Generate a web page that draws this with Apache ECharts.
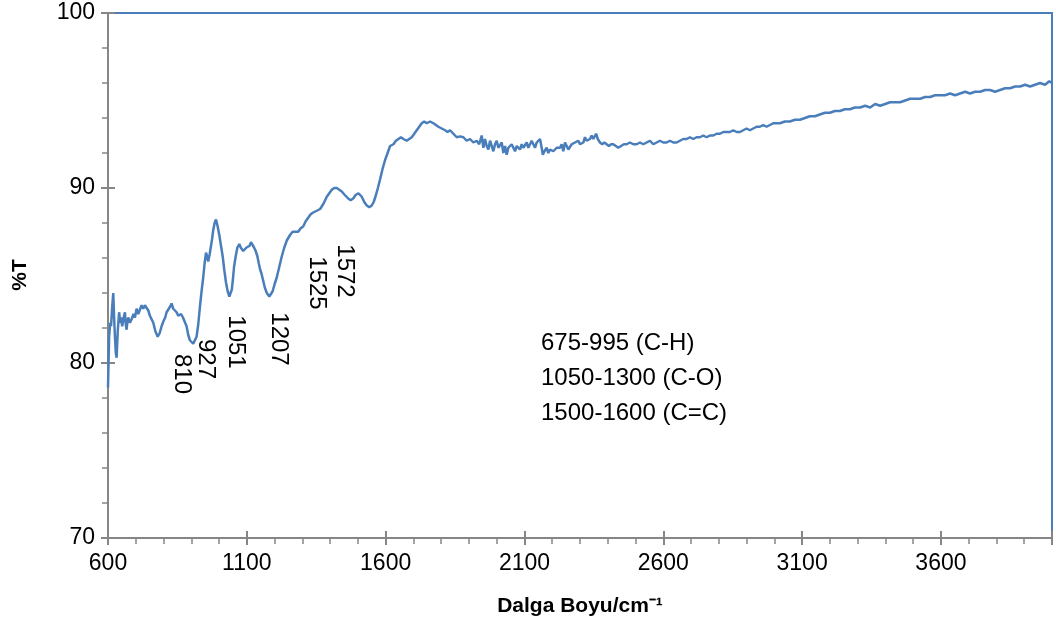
<!DOCTYPE html>
<html>
<head>
<meta charset="utf-8">
<title>FTIR</title>
<script src="https://cdn.jsdelivr.net/npm/echarts@6/dist/echarts.min.js"></script>
<style>
  html, body { margin: 0; padding: 0; background: #fff; }
  #main { width: 1056px; height: 634px; }
</style>
</head>
<body>
<div id="main"></div>
<script>
// dalga sayisi (cm-1)
const wavenumbers = [
  600, 604, 608, 611, 615, 619, 622, 625, 628, 631, 635, 640, 644, 647, 651, 655, 658, 661, 664, 667,
  670, 673, 679, 685, 692, 697, 703, 709, 715, 721, 727, 733, 739, 745, 751, 757, 763, 771, 779, 786,
  793, 800, 806, 811, 817, 823, 829, 835, 841, 847, 853, 858, 863, 870, 877, 883, 889, 895, 901, 907,
  913, 919, 925, 931, 937, 943, 948, 953, 957, 961, 966, 970, 975, 979, 984, 989, 995, 1001, 1007, 1013,
  1019, 1025, 1031, 1037, 1042, 1046, 1050, 1054, 1060, 1066, 1073, 1078, 1082, 1087, 1093, 1099, 1105, 1110, 1115, 1121,
  1126, 1132, 1138, 1143, 1147, 1153, 1159, 1165, 1172, 1177, 1181, 1187, 1193, 1200, 1208, 1217, 1226, 1235, 1244, 1255,
  1265, 1275, 1285, 1294, 1303, 1312, 1321, 1330, 1339, 1352, 1364, 1376, 1388, 1397, 1406, 1415, 1424, 1433, 1442, 1453,
  1465, 1474, 1483, 1492, 1502, 1508, 1514, 1523, 1532, 1541, 1550, 1557, 1565, 1572, 1580, 1589, 1598, 1607, 1616, 1628,
  1637, 1646, 1655, 1664, 1676, 1685, 1694, 1703, 1712, 1721, 1730, 1739, 1748, 1760, 1772, 1781, 1790, 1802, 1814, 1823,
  1832, 1844, 1856, 1868, 1880, 1892, 1904, 1916, 1928, 1937, 1946, 1952, 1958, 1964, 1970, 1976, 1982, 1988, 1994, 2000,
  2006, 2012, 2018, 2024, 2030, 2036, 2042, 2048, 2054, 2060, 2066, 2072, 2078, 2084, 2090, 2096, 2102, 2108, 2114, 2120,
  2126, 2132, 2138, 2144, 2150, 2156, 2162, 2166, 2172, 2180, 2186, 2192, 2198, 2204, 2210, 2216, 2222, 2228, 2234, 2240,
  2246, 2252, 2258, 2264, 2270, 2276, 2282, 2288, 2294, 2300, 2306, 2312, 2318, 2324, 2330, 2336, 2342, 2348, 2354, 2358,
  2364, 2372, 2380, 2388, 2396, 2404, 2412, 2420, 2429, 2438, 2448, 2458, 2468, 2480, 2492, 2504, 2516, 2528, 2540, 2552,
  2564, 2576, 2588, 2600, 2612, 2624, 2636, 2648, 2660, 2672, 2684, 2696, 2708, 2720, 2732, 2744, 2756, 2768, 2780, 2792,
  2804, 2816, 2828, 2840, 2852, 2864, 2876, 2888, 2900, 2912, 2924, 2936, 2948, 2960, 2972, 2984, 2996, 3008, 3020, 3038,
  3056, 3074, 3092, 3110, 3128, 3146, 3164, 3182, 3200, 3218, 3236, 3254, 3272, 3290, 3309, 3327, 3345, 3363, 3381, 3399,
  3417, 3435, 3453, 3471, 3489, 3507, 3525, 3543, 3561, 3579, 3597, 3615, 3633, 3651, 3669, 3687, 3705, 3723, 3741, 3759,
  3777, 3795, 3813, 3831, 3849, 3867, 3885, 3903, 3921, 3939, 3957, 3975, 3990, 4000
];

// %T degerleri
const transmittance = [
  78.6, 81.5, 82.3, 82.1, 83.2, 84.0, 82.6, 81.5, 80.6, 80.3, 81.8, 82.9, 82.3, 82.6, 82.1, 82.0, 82.7, 82.9, 82.2, 81.9,
  82.4, 82.6, 82.3, 82.5, 82.8, 82.6, 83.1, 82.8, 82.9, 83.3, 83.1, 83.3, 83.2, 83.0, 82.7, 82.6, 82.3, 81.8, 81.5, 81.7,
  82.1, 82.4, 82.6, 82.9, 83.0, 83.2, 83.4, 83.1, 83.0, 82.9, 82.7, 82.8, 82.8, 82.6, 82.5, 82.1, 81.6, 81.3, 81.2, 81.1,
  81.1, 81.5, 82.2, 83.2, 84.1, 84.9, 85.7, 86.3, 86.1, 85.8, 86.2, 86.6, 87.1, 87.6, 88.0, 88.2, 87.8, 87.3, 86.7, 86.1,
  85.3, 84.6, 84.1, 83.8, 83.9, 84.2, 84.8, 85.5, 86.1, 86.6, 86.8, 86.6, 86.6, 86.4, 86.5, 86.6, 86.6, 86.7, 86.9, 86.8,
  86.6, 86.4, 86.1, 85.7, 85.4, 85.1, 84.7, 84.3, 84.0, 83.9, 83.8, 83.9, 84.1, 84.5, 84.9, 85.5, 86.1, 86.6, 87.0, 87.3,
  87.5, 87.5, 87.5, 87.7, 87.8, 88.1, 88.3, 88.5, 88.6, 88.7, 88.8, 89.1, 89.5, 89.7, 89.9, 90.0, 90.0, 89.9, 89.8, 89.6,
  89.4, 89.3, 89.4, 89.6, 89.7, 89.7, 89.5, 89.2, 89.0, 88.9, 89.0, 89.2, 89.6, 90.0, 90.5, 91.1, 91.6, 92.0, 92.4, 92.5,
  92.7, 92.8, 92.9, 92.8, 92.7, 92.8, 92.9, 93.1, 93.3, 93.5, 93.7, 93.8, 93.7, 93.8, 93.7, 93.6, 93.5, 93.4, 93.3, 93.2,
  93.3, 93.1, 92.9, 92.95, 92.9, 92.7, 92.8, 92.6, 92.7, 92.5, 93.0, 92.3, 92.8, 92.4, 92.2, 92.7, 92.6, 92.1, 92.5, 92.7,
  92.3, 92.2, 92.6, 92.0, 92.4, 91.9, 92.3, 92.2, 92.5, 92.3, 92.1, 92.4, 92.3, 92.2, 92.5, 92.3, 92.4, 92.6, 92.3, 92.5,
  92.7, 92.5, 92.3, 92.6, 92.6, 92.8, 92.3, 91.9, 92.1, 92.3, 92.0, 92.2, 92.3, 92.1, 92.0, 92.3, 92.2, 92.3, 92.5, 92.1,
  92.6, 92.4, 92.2, 92.3, 92.5, 92.4, 92.6, 92.5, 92.7, 92.5, 92.6, 92.6, 92.9, 92.7, 92.6, 92.8, 93.0, 92.8, 92.9, 93.1,
  92.8, 92.6, 92.5, 92.6, 92.5, 92.4, 92.5, 92.5, 92.4, 92.3, 92.4, 92.5, 92.5, 92.6, 92.5, 92.5, 92.6, 92.5, 92.6, 92.7,
  92.5, 92.6, 92.7, 92.6, 92.6, 92.7, 92.6, 92.6, 92.7, 92.8, 92.8, 92.9, 92.8, 92.9, 92.9, 93.0, 92.9, 93.0, 93.0, 93.1,
  93.1, 93.2, 93.2, 93.2, 93.3, 93.2, 93.2, 93.3, 93.4, 93.3, 93.4, 93.5, 93.5, 93.6, 93.5, 93.6, 93.7, 93.7, 93.7, 93.8,
  93.8, 93.9, 93.9, 94.0, 94.1, 94.1, 94.2, 94.3, 94.3, 94.4, 94.4, 94.5, 94.5, 94.6, 94.6, 94.7, 94.6, 94.8, 94.7, 94.8,
  94.9, 94.9, 94.9, 95.0, 95.1, 95.1, 95.1, 95.2, 95.2, 95.3, 95.3, 95.3, 95.4, 95.3, 95.4, 95.5, 95.4, 95.5, 95.5, 95.6,
  95.6, 95.5, 95.6, 95.7, 95.7, 95.8, 95.8, 95.9, 95.8, 95.9, 96.0, 95.9, 96.1, 96.0
];

// pik etiketleri ve aciklama
const peakLabels = ['810', '927', '1051', '1207', '1525', '1572'];
const bandNotes = ['675-995 (C-H)', '1050-1300 (C-O)', '1500-1600 (C=C)'];

const xTicks = { min: 600, max: 4000, step: 500 };
const yTicks = { min: 70, max: 100, step: 10 };

const seriesData = wavenumbers.map((w, i) => [w, transmittance[i]]);

const chart = echarts.init(document.getElementById('main'));
const font = '"Liberation Sans", Arial, sans-serif';
const axisGray = '#868686';
const lineBlue = '#4a7ebb';

// etiketlerin ekran konumlari (px)
const peakPos = [[182, 374], [206, 359], [236, 342], [279, 339], [317, 283], [345, 271]];

const graphics = peakLabels.map((t, i) => ({
  type: 'text',
  x: peakPos[i][0],
  y: peakPos[i][1],
  rotation: -Math.PI / 2,
  style: {
    text: t,
    font: '24px ' + font,
    fill: '#000',
    textAlign: 'center',
    textVerticalAlign: 'middle'
  }
}));

bandNotes.forEach((t, i) => {
  graphics.push({
    type: 'text',
    left: 541,
    top: 331 + i * 35,
    style: { text: t, font: '24px ' + font, fill: '#000' }
  });
});

// y ekseni basligi (asagidan yukari)
graphics.push({
  type: 'text',
  x: 20,
  y: 275,
  rotation: Math.PI / 2,
  style: {
    text: '%T',
    font: 'bold 21px ' + font,
    fill: '#000',
    textAlign: 'center',
    textVerticalAlign: 'middle'
  }
});

const option = {
  animation: false,
  backgroundColor: '#fff',
  grid: [
    { left: 108, right: 4, top: 13, bottom: 96, show: true, borderColor: lineBlue, borderWidth: 2, backgroundColor: 'transparent' },
    { left: 108, right: 4, top: 13, bottom: 96 }
  ],
  xAxis: [
    {
      type: 'value',
      min: xTicks.min,
      max: xTicks.max,
      interval: xTicks.step,
      name: 'Dalga Boyu/cm\u207B\u00B9',
      nameLocation: 'middle',
      nameGap: 58,
      nameTextStyle: { fontFamily: font, fontSize: 21, fontWeight: 'bold', color: '#000' },
      axisLine: { lineStyle: { color: axisGray, width: 2 } },
      axisTick: { length: 7, lineStyle: { color: axisGray, width: 2 } },
      minorTick: { show: true, splitNumber: 5, length: 6, lineStyle: { color: axisGray, width: 1.5 } },
      splitLine: { show: false },
      axisLabel: { fontFamily: font, fontSize: 23, color: '#000', margin: 14, showMaxLabel: false, formatter: v => String(v) }
    },
    {
      gridIndex: 1,
      type: 'value',
      min: xTicks.min,
      max: xTicks.max,
      interval: xTicks.step,
      axisLine: { show: false },
      axisTick: { inside: true, length: 7, lineStyle: { color: axisGray, width: 2 } },
      axisLabel: { show: false },
      splitLine: { show: false }
    }
  ],
  yAxis: [
    {
      type: 'value',
      min: yTicks.min,
      max: yTicks.max,
      interval: yTicks.step,
      axisLine: { show: true, lineStyle: { color: axisGray, width: 2 } },
      axisTick: { show: true, length: 7, lineStyle: { color: axisGray, width: 2 } },
      minorTick: { show: true, splitNumber: 5, length: 6, lineStyle: { color: axisGray, width: 1.5 } },
      splitLine: { show: false },
      axisLabel: { fontFamily: font, fontSize: 23, color: '#000', margin: 13, formatter: v => String(v) }
    },
    {
      gridIndex: 1,
      type: 'value',
      min: yTicks.min,
      max: yTicks.max,
      interval: yTicks.step,
      axisLine: { show: false },
      axisTick: { show: true, inside: true, length: 7, lineStyle: { color: axisGray, width: 2 } },
      axisLabel: { show: false },
      splitLine: { show: false }
    }
  ],
  series: [
    {
      type: 'line',
      data: seriesData,
      showSymbol: false,
      clip: true,
      lineStyle: { color: lineBlue, width: 2.5 },
      z: 3
    }
  ],
  graphic: graphics
};

chart.setOption(option);
</script>
</body>
</html>
